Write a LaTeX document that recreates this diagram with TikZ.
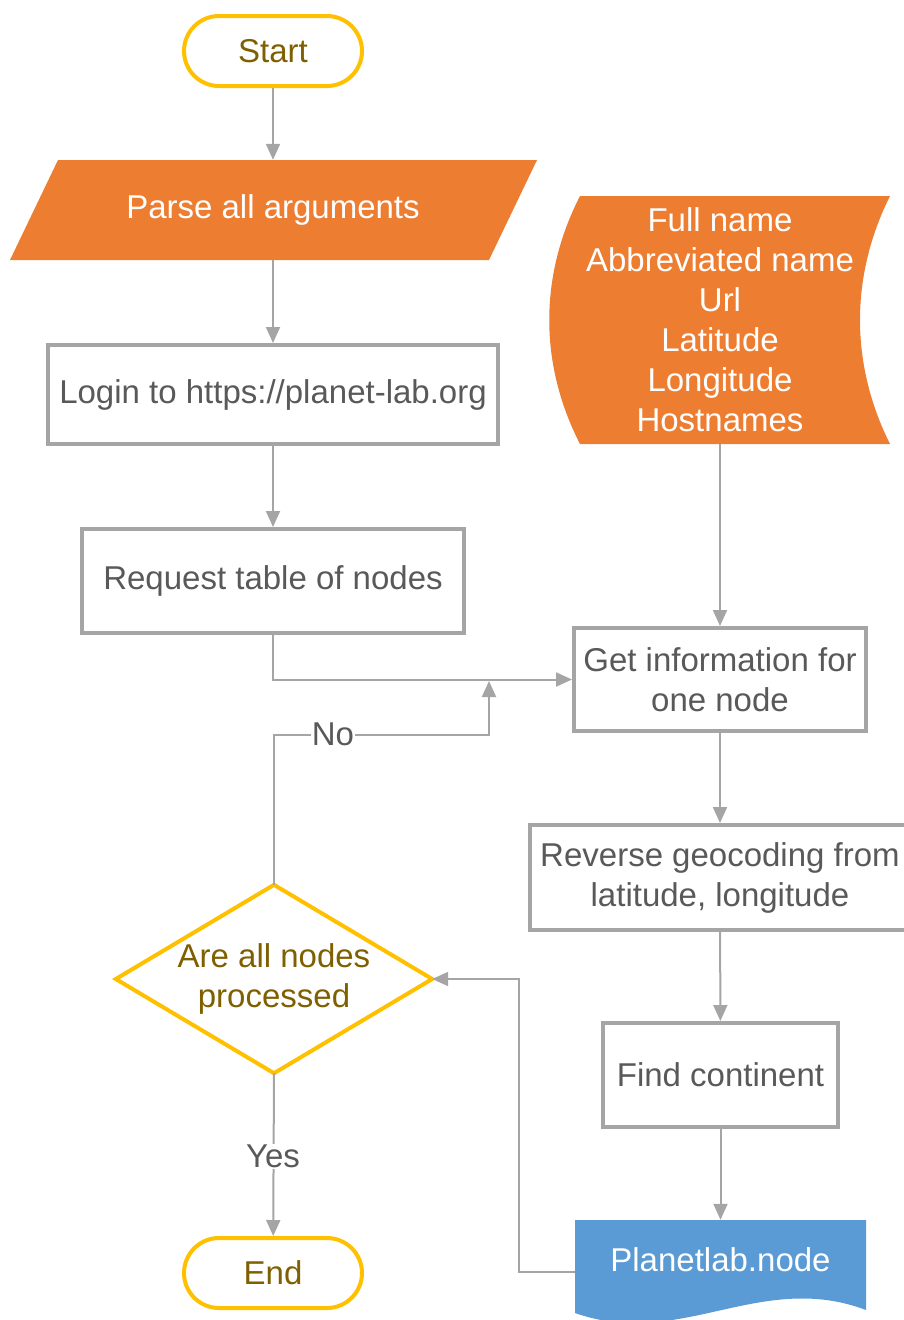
\documentclass[tikz,border=0pt]{standalone}
\usepackage{fontspec}
\setmainfont{Liberation Sans}
\usetikzlibrary{arrows.meta}
\definecolor{orng}{HTML}{ED7D31}
\definecolor{blu}{HTML}{5B9BD5}
\definecolor{yel}{HTML}{FFC000}
\definecolor{gold}{HTML}{7F6000}
\definecolor{lgray}{HTML}{A5A5A5}
\definecolor{tgray}{HTML}{595959}
\begin{document}
\begin{tikzpicture}[x=1pt,y=-1pt,
  lbl/.style={font=\fontsize{33}{40}\selectfont, align=center, inner sep=0pt},
  procbox/.style={lbl, draw=lgray, line width=4pt, fill=white, text=tgray},
  term/.style={lbl, draw=yel, line width=4pt, fill=white, text=gold, rounded corners=35pt, minimum width=178pt, minimum height=70pt},
  ghost/.style={lbl, text=white},
  conn/.style={draw=lgray, line width=2pt, -{Triangle[width=14pt,length=16pt]}},
  edgelbl/.style={lbl, fill=white, text=tgray, inner sep=1pt}
]
\useasboundingbox (0,0) rectangle (904,1320);
\clip (0,0) rectangle (904,1320);

% shapes drawn directly
\fill[orng] (58,160) -- (537,160) -- (489,260) -- (10,260) -- cycle;
\fill[orng] (580,196) -- (890,196) .. controls (850,276) and (850,364) .. (890,444)
  -- (580,444) .. controls (539,364) and (539,276) .. (580,196) -- cycle;
\fill[blu] (575,1220) -- (866,1220) -- (866,1310)
  .. controls (760,1270) and (680,1350) .. (575,1313) -- cycle;

% nodes
\node[term] (start) at (273,51) {Start};
\node[ghost, minimum width=480pt, minimum height=100pt] (parse) at (273,210) {Parse all arguments};
\node[procbox, minimum width=450pt, minimum height=99pt] (login) at (273,394.5) {Login to https://planet-lab.org};
\node[procbox, minimum width=382pt, minimum height=104pt] (req) at (273,581) {Request table of nodes};
\node[ghost, minimum width=340pt, minimum height=248pt] (stored) at (720,320)
  {Full name\\Abbreviated name\\Url\\Latitude\\Longitude\\Hostnames};
\node[procbox, minimum width=292pt, minimum height=103pt] (getinfo) at (720,679.5) {Get information for\\one node};
\node[procbox, minimum width=380pt, minimum height=105pt] (rev) at (720,877.5) {Reverse geocoding from\\latitude, longitude};
\node[procbox, minimum width=235pt, minimum height=104pt] (find) at (720.5,1075) {Find continent};
\node[ghost, minimum width=291pt, minimum height=80pt] (doc) at (720.5,1260) {Planetlab.node};
\node[lbl, text=gold, minimum width=316pt, minimum height=188pt] (dec) at (274,979) {Are all nodes\\processed};
\draw[yel, line width=4pt, line join=miter] (dec.north) -- (dec.east) -- (dec.south) -- (dec.west) -- cycle;
\node[term] (end) at (273,1273) {End};

% connectors
\draw[conn] (start) -- (parse);
\draw[conn] (parse) -- (login);
\draw[conn] (login) -- (req);
\draw[conn] (req.south) |- (getinfo.west);
\draw[conn] (stored) -- (getinfo);
\draw[conn] (getinfo) -- (rev);
\draw[conn] (rev) -- (find);
\draw[conn] (find) -- (doc);
\draw[conn] ([yshift=-12pt]doc.west) -- ++(-56,0) |- (dec.east);
\coordinate (noend) at (489,681);
\draw[conn] (dec.north) -- ++(0,-150) -| (noend);
\node[edgelbl] (nolbl) at (333,734) {No};
\draw[conn] (dec.south) -- (end);
\node[edgelbl] (yeslbl) at (273,1156) {Yes};
\end{tikzpicture}
\end{document}
